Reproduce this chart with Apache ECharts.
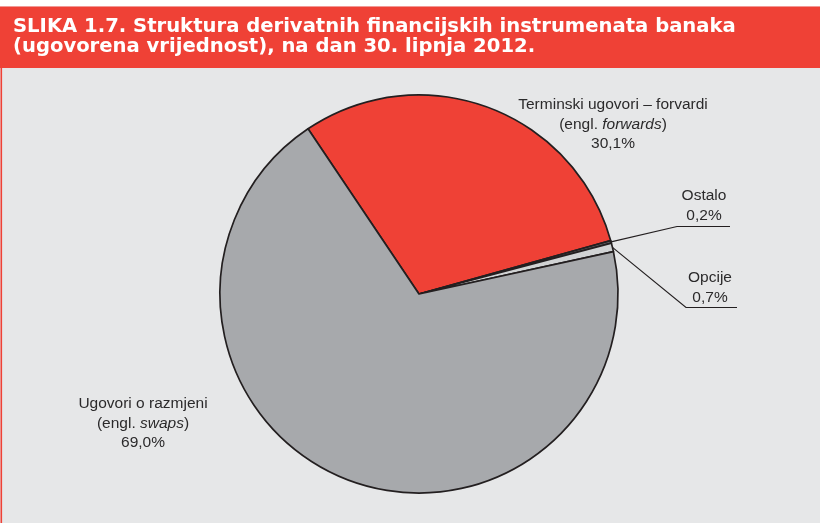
<!DOCTYPE html>
<html>
<head>
<meta charset="utf-8">
<script src="https://cdn.jsdelivr.net/npm/echarts@6/dist/echarts.min.js"></script>
<style>
html, body { margin: 0; padding: 0; background: #fff; }
#main { width: 820px; height: 523px; }
</style>
</head>
<body>
<div id="main"></div>
<script>
// struktura derivata, 30.6.2012.
var names = ['Terminski ugovori – forvardi', 'Ostalo', 'Opcije', 'Ugovori o razmjeni']
var englNames = ['forwards', '', '', 'swaps']
var values = [30.1, 0.2, 0.7, 69.0]
var colors = ['#ef4136', '#6d6e71', '#d1d3d4', '#a7a9ac']

// gdje stoje natpisi (x, y, vertikalno poravnanje)
var labelPos = [
    [613, 95, 'top'],
    [704, 225, 'bottom'],
    [710, 307, 'bottom'],
    [143, 394, 'top']
]
// koljeno i kraj linije za male isjecke
var linePts = {
    1: [[677, 226.5], [730, 226.5]],
    2: [[686, 307.5], [737, 307.5]]
}

var data = []
for (let i = 0; i < names.length; i++) {
    data.push({
        name: names[i],
        value: values[i],
        itemStyle: { color: colors[i] },
        labelLine: { show: !!linePts[i] }
    })
}

var mCharts = echarts.init(document.getElementById('main'))
var option = {
    backgroundColor: '#e6e7e8',
    animation: false,
    title: {
        text: 'SLIKA 1.7. Struktura derivatnih financijskih instrumenata banaka\n(ugovorena vrijednost), na dan 30. lipnja 2012.',
        left: 13,
        top: 17.5,
        padding: 0,
        textStyle: {
            color: '#fff',
            fontFamily: 'DejaVu Sans',
            fontWeight: 'bold',
            fontSize: 19.6,
            lineHeight: 19.5
        }
    },
    graphic: [
        { type: 'rect', shape: { x: 0, y: 0, width: 820, height: 6.5 }, style: { fill: '#fff' }, z: -1 },
        { type: 'rect', shape: { x: 0, y: 6.5, width: 820, height: 61.5 }, style: { fill: '#ef4136' }, z: -1 },
        { type: 'rect', shape: { x: 0.5, y: 68, width: 1.6, height: 455 }, style: { fill: '#ef4136' }, z: -1 }
    ],
    series: [
        {
            type: 'pie',
            center: [419, 294],
            radius: 199,
            startAngle: 123.9,
            clockwise: true,
            avoidLabelOverlap: false,
            data: data,
            itemStyle: {
                borderColor: '#231f20',
                borderWidth: 1.7
            },
            label: {
                show: true,
                position: 'outside',
                color: '#2b2a2b',
                fontFamily: 'Liberation Sans',
                fontSize: 15.5,
                lineHeight: 19.5,
                align: 'center',
                formatter: function (p) {
                    var pct = p.value.toFixed(1).replace('.', ',') + '%'
                    var e = englNames[p.dataIndex]
                    if (e) {
                        return p.name + '\n(engl. {i|' + e + '})\n' + pct
                    }
                    return p.name + '\n' + pct
                },
                rich: {
                    i: {
                        fontStyle: 'italic',
                        color: '#2b2a2b',
                        fontFamily: 'Liberation Sans',
                        fontSize: 15.5,
                        lineHeight: 19.5
                    }
                }
            },
            labelLine: {
                lineStyle: { color: '#231f20', width: 1.2 }
            },
            labelLayout: function (params) {
                var i = params.dataIndex
                var pos = labelPos[i]
                var res = {
                    x: pos[0],
                    y: pos[1],
                    align: 'center',
                    verticalAlign: pos[2]
                }
                if (linePts[i] && params.labelLinePoints) {
                    res.labelLinePoints = [params.labelLinePoints[0], linePts[i][0], linePts[i][1]]
                }
                return res
            }
        }
    ]
}
mCharts.setOption(option)
</script>
</body>
</html>
